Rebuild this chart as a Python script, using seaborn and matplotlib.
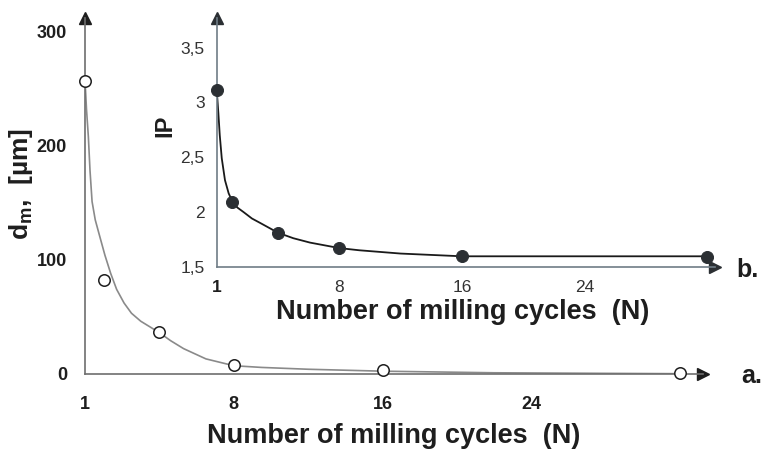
import matplotlib
matplotlib.use("Agg")
import matplotlib.pyplot as plt
import seaborn as sns
import pandas as pd

# ---------------- data ----------------
# x positions on the axis (the origin is labelled "1")
cycles = [0, 1, 4, 8, 16, 32]
dm_values = [257, 82, 37, 8, 3, 1]                 # d_m [µm], open circles (a.)
ip_values = [3.11, 2.09, 1.81, 1.67, 1.60, 1.59]   # IP, filled circles (b.)

# fitted trend curve of panel a.
dm_curve_x = [0, 0.04, 0.08, 0.13, 0.18, 0.27, 0.38, 0.55, 0.75, 1.07, 1.38, 1.7, 2.1, 2.5, 3.0, 3.5, 4.0, 4.6, 5.3, 6.5, 8, 9.5, 12, 16, 22, 28, 32]
dm_curve_y = [257, 245, 232, 220, 208, 178, 151, 135, 123, 104, 88, 74, 62, 53, 46, 41, 36, 29, 22, 13, 7, 5.5, 3.9, 2.2, 0.8, 0.3, 0]

# smooth curve of panel b.
ip_curve_x = [0, 0.05, 0.11, 0.2, 0.33, 0.54, 0.78, 1.04, 1.35, 1.74, 2.3, 2.83, 4, 5, 6.09, 8, 9.3, 12, 16, 24, 32]
ip_curve_y = [3.11, 3.02, 2.90, 2.70, 2.49, 2.29, 2.17, 2.09, 2.04, 2.00, 1.94, 1.90, 1.81, 1.76, 1.72, 1.67, 1.65, 1.62, 1.595, 1.595, 1.595]

x_tick_pos = [0, 8, 16, 24]
x_tick_labels = ["1", "8", "16", "24"]
dm_ticks = [0, 100, 200, 300]
dm_minor_ticks = [50, 150, 250]
ip_ticks = [1.5, 2, 2.5, 3, 3.5]
ip_tick_labels = ["1,5", "2", "2,5", "3", "3,5"]

# ---------------- style ----------------
sns.set_style("white")
fam = "Liberation Sans"
plt.rcParams["font.family"] = [fam, "DejaVu Sans"]
plt.rcParams["mathtext.fontset"] = "custom"
plt.rcParams["mathtext.rm"] = fam
plt.rcParams["mathtext.bf"] = fam + ":bold"

W, H = 763, 450
PX = 72 / 100.0  # points per pixel at dpi 100
fig = plt.figure(figsize=(W / 100, H / 100), dpi=100)


def frac(left, top, right, bottom):
    return [left / W, 1 - bottom / H, (right - left) / W, (bottom - top) / H]


all_ticks = list(range(0, 33, 4))
all_labels = [x_tick_labels[x_tick_pos.index(v)] if v in x_tick_pos else "" for v in all_ticks]

# ---------------- main axes (a.) ----------------
ax = fig.add_axes(frac(85, 18, 703, 373.7))
ax.set_facecolor("none")
main_col = "#6e6e6e"
dark = "#1e1e1e"
df_curve = pd.DataFrame({"N": dm_curve_x, "dm": dm_curve_y})
sns.lineplot(data=df_curve, x="N", y="dm", ax=ax, color="#8a8a8a", lw=1.2,
             sort=False, estimator=None)
df_a = pd.DataFrame({"N": cycles, "dm": dm_values})
sns.scatterplot(data=df_a, x="N", y="dm", ax=ax, marker="o", s=68,
                facecolor="white", edgecolor=dark, linewidth=1.1,
                zorder=5, clip_on=False)
ax.set_xlim(0, (703 - 85) / 18.6)
ax.set_ylim(0, (373.7 - 18) / 1.14)
for s in ["top", "right"]:
    ax.spines[s].set_visible(False)
for s in ["left", "bottom"]:
    ax.spines[s].set_color(main_col)
    ax.spines[s].set_linewidth(1.2)
ax.set_xticks(all_ticks)
ax.set_xticklabels(all_labels)
ax.set_yticks(dm_ticks)
ax.set_yticks(dm_minor_ticks, minor=True)
ax.tick_params(axis="x", direction="out", length=6 * PX, width=1, color=main_col,
               pad=16 * PX, labelsize=13, labelcolor=dark)
ax.tick_params(axis="y", which="major", direction="out", length=12 * PX, width=1,
               color=main_col, pad=6 * PX, labelsize=13, labelcolor=dark)
ax.tick_params(axis="y", which="minor", direction="out", length=8 * PX, width=1,
               color=main_col)
for lbl in ax.get_xticklabels() + ax.get_yticklabels():
    lbl.set_fontweight("bold")
ax.plot(1, 0, ">", color=dark, ms=8, transform=ax.transAxes, clip_on=False)
ax.plot(0, 1, "^", color=dark, ms=8, transform=ax.transAxes, clip_on=False)
ax.set_xlabel("")
ax.set_ylabel("")
fig.text(394 / W, 1 - 436 / H, "Number of milling cycles  (N)", ha="center", va="center",
         fontsize=19.5, fontweight="bold", color=dark)
fig.text(21 / W, 1 - 184 / H, r"d$_{\mathbf{m}}$,  [µm]", ha="center", va="center",
         rotation=90, fontsize=19, fontweight="bold", color=dark)
fig.text(752 / W, 1 - 376 / H, "a.", ha="center", va="center",
         fontsize=18, fontweight="bold", color=dark)

# ---------------- inset axes (b.) ----------------
ins_col = "#6f7d86"
ax2 = fig.add_axes(frac(216.7, 18, 715, 266.7))
ax2.set_facecolor("none")
df_curve2 = pd.DataFrame({"N": ip_curve_x, "IP": ip_curve_y})
sns.lineplot(data=df_curve2, x="N", y="IP", ax=ax2, color="#1a1a1a", lw=1.3,
             sort=False, estimator=None)
df_b = pd.DataFrame({"N": cycles, "IP": ip_values})
sns.scatterplot(data=df_b, x="N", y="IP", ax=ax2, marker="o", s=75,
                color="#2b2f33", edgecolor="#2b2f33", zorder=5, clip_on=False)
ax2.set_xlim(0, (715 - 216.7) / 15.33)
ax2.set_ylim(1.5, 1.5 + (266.7 - 18) / 109.5)
for s in ["top", "right"]:
    ax2.spines[s].set_visible(False)
for s in ["left", "bottom"]:
    ax2.spines[s].set_color(ins_col)
    ax2.spines[s].set_linewidth(1.2)
ax2.set_xticks(all_ticks)
ax2.set_xticklabels(all_labels)
ax2.set_yticks(ip_ticks)
ax2.set_yticklabels(ip_tick_labels)
ax2.tick_params(axis="x", direction="out", length=5 * PX, width=1, color=ins_col,
                pad=8 * PX, labelsize=12.5, labelcolor="#333333")
ax2.tick_params(axis="y", direction="out", length=10 * PX, width=1, color=ins_col,
                pad=2 * PX, labelsize=12.5, labelcolor="#333333")
ax2.get_xticklabels()[0].set_fontweight("bold")
ax2.get_xticklabels()[0].set_color(dark)
ax2.plot(1, 0, ">", color="#2b2f33", ms=8, transform=ax2.transAxes, clip_on=False)
ax2.plot(0, 1, "^", color="#2b2f33", ms=8, transform=ax2.transAxes, clip_on=False)
ax2.set_xlabel("")
ax2.set_ylabel("")
fig.text(463 / W, 1 - 312 / H, "Number of milling cycles  (N)", ha="center", va="center",
         fontsize=19.5, fontweight="bold", color=dark)
fig.text(164.5 / W, 1 - 125.5 / H, "IP", ha="center", va="center", rotation=90,
         fontsize=17, fontweight="bold", color=dark)
fig.text(747 / W, 1 - 270 / H, "b.", ha="center", va="center",
         fontsize=18, fontweight="bold", color=dark)

fig.savefig("out.png", dpi=100)
